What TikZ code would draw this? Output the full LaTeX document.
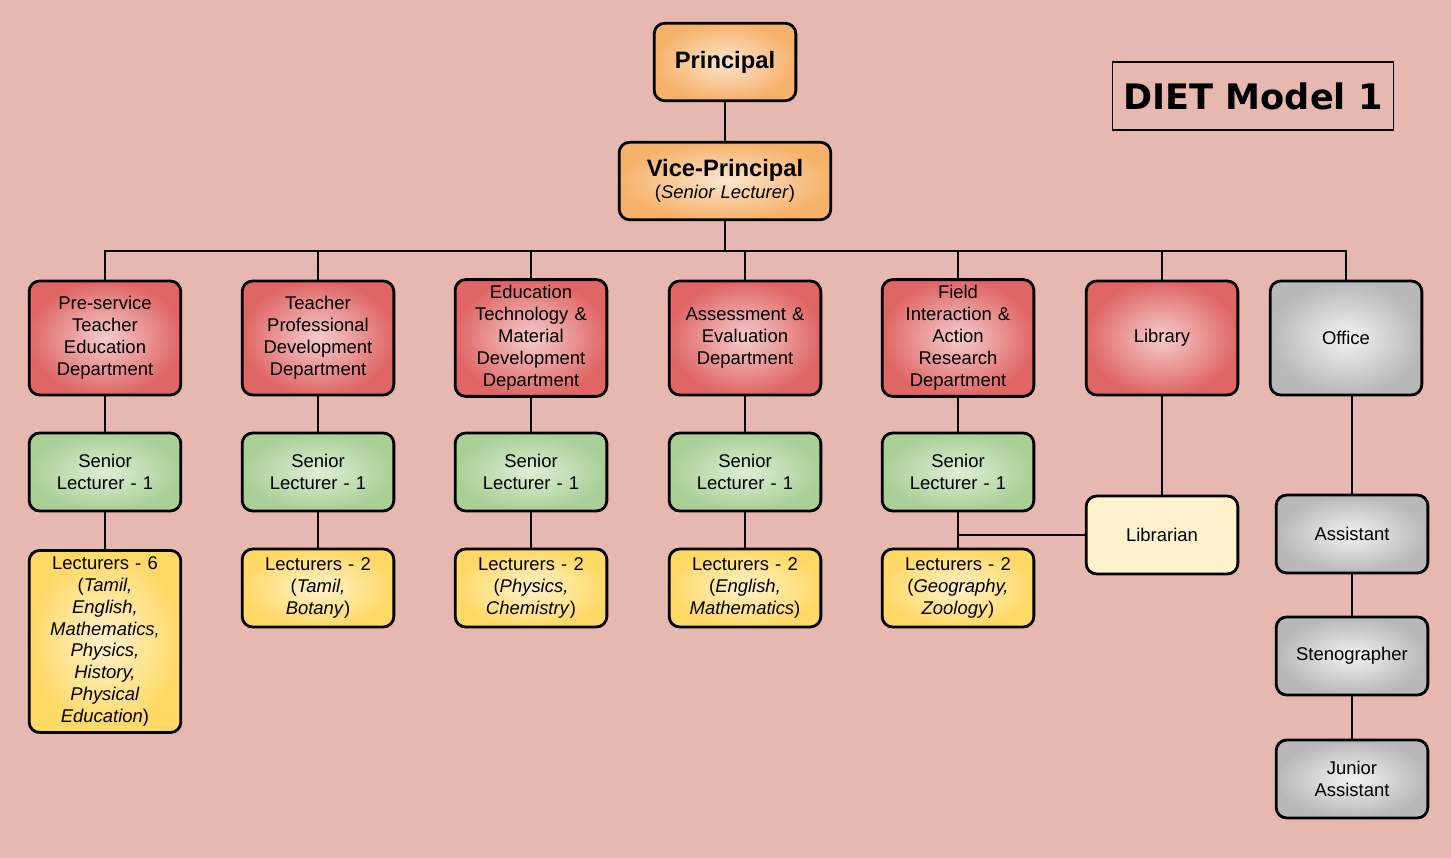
\documentclass[tikz,border=0pt]{standalone}
\usepackage{fontspec}
\setmainfont{Liberation Sans}
\newfontfamily\titlefont{DejaVu Sans}
\usetikzlibrary{positioning}
\definecolor{bgpink}{HTML}{E6B8B0}
\definecolor{redout}{HTML}{E06666}
\definecolor{redin}{HTML}{F4CCCC}
\definecolor{greenout}{HTML}{A9CF96}
\definecolor{greenin}{HTML}{DDEED6}
\definecolor{yellout}{HTML}{FFD966}
\definecolor{yellin}{HTML}{FFF2CC}
\definecolor{orout}{HTML}{F6B26B}
\definecolor{orin}{HTML}{FCE5CD}
\begin{document}
\begin{tikzpicture}[x=0.02cm, y=-0.02cm,
    box/.style = {draw, line width=1.6pt, rounded corners=6pt, align=center,
                  minimum width=2.9cm, text width=2.8cm,
                  font=\fontsize{10.5}{12.5}\selectfont},
    dept/.style = {box, minimum height=2.28cm, shading=radial,
                   inner color=redin, outer color=redout},
    senior/.style = {box, minimum height=1.56cm, shading=radial,
                     inner color=greenin, outer color=greenout},
    lect/.style = {box, minimum height=1.56cm, shading=radial,
                   inner color=yellin, outer color=yellout},
    grey/.style = {box, minimum height=1.56cm, shading=radial,
                   inner color=white!95!black, outer color=black!28},
    top/.style = {box, shading=radial, inner color=orin, outer color=orout},
    link/.style = {line width=1.3pt}
  ]
  \fill[bgpink] (0,0) rectangle (1451,858);

  % top
  \node[top, minimum width=2.75cm, text width=2.6cm, minimum height=1.55cm,
        font=\fontsize{13.5}{16}\selectfont\bfseries] (princ) at (725,62) {Principal};
  \node[top, minimum width=4.15cm, text width=4cm, minimum height=1.55cm] (vice) at (725,181)
       {{\fontsize{13.5}{16}\selectfont\bfseries Vice-Principal}\\(\textit{Senior Lecturer})};
  \node[draw, line width=0.6pt, minimum width=5.62cm, minimum height=1.36cm,
        font=\titlefont\fontsize{20}{24}\selectfont\bfseries] (title) at (1253,96) {DIET Model 1};

  % departments
  \node[dept] (d1) at (105,338) {Pre-service\\Teacher\\Education\\Department};
  \node[dept] (d2) at (318,338) {Teacher\\Professional\\Development\\Department};
  \node[dept] (d3) at (531,338) {Education\\Technology \&\\Material\\Development\\Department};
  \node[dept] (d4) at (745,338) {Assessment \&\\Evaluation\\Department};
  \node[dept] (d5) at (958,338) {Field\\Interaction \&\\Action\\Research\\Department};
  \node[dept] (lib) at (1162,338) {Library};
  \node[grey, minimum height=2.28cm] (office) at (1346,338) {Office};

  % senior lecturers
  \foreach \n/\x in {1/105, 2/318, 3/531, 4/745, 5/958}
    \node[senior] (s\n) at (\x,472) {Senior\\Lecturer - 1};

  % lecturers
  \node[lect, anchor=north] (l1) at (105,549) {Lecturers - 6\\(\textit{Tamil,}\\\textit{English,}\\\textit{Mathematics,}\\\textit{Physics,}\\\textit{History,}\\\textit{Physical}\\\textit{Education})};
  \node[lect] (l2) at (318,588) {Lecturers - 2\\(\textit{Tamil,}\\\textit{Botany})};
  \node[lect] (l3) at (531,588) {Lecturers - 2\\(\textit{Physics,}\\\textit{Chemistry})};
  \node[lect] (l4) at (745,588) {Lecturers - 2\\(\textit{English,}\\\textit{Mathematics})};
  \node[lect] (l5) at (958,588) {Lecturers - 2\\(\textit{Geography,}\\\textit{Zoology})};

  \node[box, minimum height=1.56cm, fill=yellin] (libn) at (1162,535) {Librarian};
  \node[grey] (asst) at (1352,534) {Assistant};
  \node[grey] (steno) at (1352,656) {Stenographer};
  \node[grey] (junior) at (1352,779) {Junior\\Assistant};

  % connectors
  \coordinate (bus) at (725,251);
  \draw[link] (princ) -- (vice);
  \draw[link] (vice) -- (bus);
  \foreach \d in {d1, d2, d3, d4, d5, lib, office}
    \draw[link] (bus) -| (\d.north);
  \foreach \n in {1,...,5} {
    \draw[link] (d\n) -- (s\n);
    \draw[link] (s\n) -- (l\n);
  }
  \draw[link] (lib) -- (libn);
  \draw[link] (s5.south) |- (libn.west);
  \draw[link] (office.south -| asst) -- (asst);
  \draw[link] (asst) -- (steno);
  \draw[link] (steno) -- (junior);
\end{tikzpicture}
\end{document}
